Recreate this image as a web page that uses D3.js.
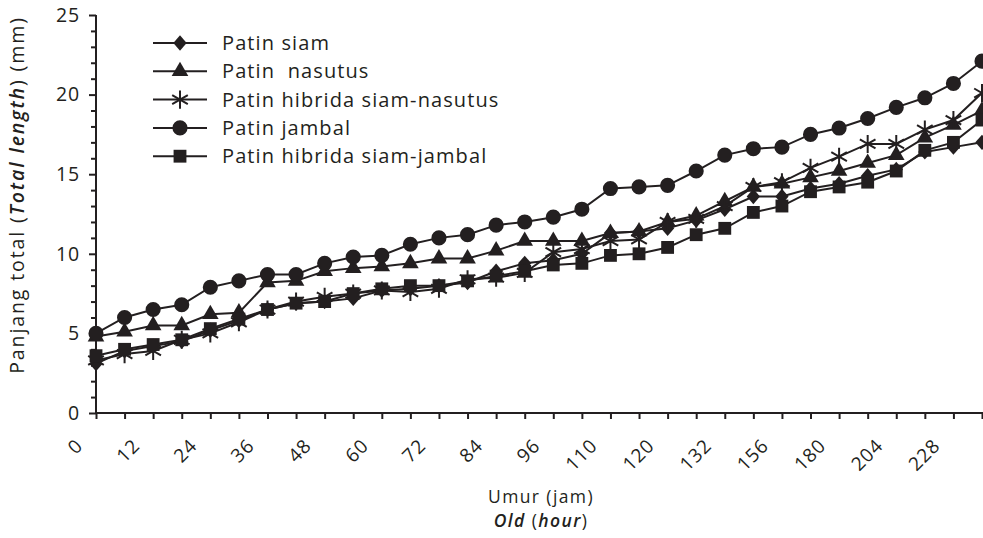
<!DOCTYPE html>
<meta charset="utf-8">
<style>
body { margin: 0; background: #fff; }
text { font-family: "Open Sans", sans-serif; fill: #231f20; letter-spacing: 0.9px; }
.axis path, .axis line { stroke: #231f20; stroke-width: 2px; fill: none; }
.series { fill: none; stroke: #231f20; stroke-width: 2px; }
.mark { fill: #231f20; stroke: #231f20; }
</style>
<body>
<script src="https://d3js.org/d3.v7.min.js"></script>
<script>

var width = 983,
    height = 538;

// hours of observation (only every second one gets a label)
var hours = [0, 6, 12, 18, 24, 30, 36, 42, 48, 54, 60, 66, 72, 78, 84, 90, 96,
             103, 110, 115, 120, 126, 132, 144, 156, 168, 180, 192, 204, 216, 228, 240];

var seriesNames = ["Patin siam", "Patin  nasutus", "Patin hibrida siam-nasutus",
                   "Patin jambal", "Patin hibrida siam-jambal"];

var siam = [3.1, 3.9, 4.2, 4.5, 5.2, 5.8, 6.5, 6.9, 7.0, 7.2, 7.7, 7.8, 8.0, 8.2, 8.9, 9.4,
            9.6, 10.0, 11.3, 11.4, 11.6, 12.1, 12.8, 13.6, 13.6, 14.1, 14.4, 14.9, 15.3, 16.4, 16.7, 17.0];
var nasutus = [4.8, 5.1, 5.5, 5.5, 6.2, 6.3, 8.2, 8.3, 8.9, 9.1, 9.2, 9.4, 9.7, 9.7, 10.2, 10.8,
               10.8, 10.8, 11.3, 11.4, 12.0, 12.4, 13.3, 14.2, 14.4, 14.8, 15.2, 15.7, 16.2, 17.3, 18.1, 19.0];
var hibridaSN = [3.3, 3.7, 3.9, 4.6, 5.0, 5.7, 6.5, 7.0, 7.3, 7.5, 7.7, 7.6, 7.8, 8.4, 8.5, 8.8,
                 10.1, 10.3, 10.8, 10.9, 12.0, 12.2, 13.0, 14.2, 14.5, 15.4, 16.1, 16.9, 16.9, 17.8, 18.4, 20.1];
var jambal = [5.0, 6.0, 6.5, 6.8, 7.9, 8.3, 8.7, 8.7, 9.4, 9.8, 9.9, 10.6, 11.0, 11.2, 11.8, 12.0,
              12.3, 12.8, 14.1, 14.2, 14.3, 15.2, 16.2, 16.6, 16.7, 17.5, 17.9, 18.5, 19.2, 19.8, 20.7, 22.1];
var hibridaSJ = [3.6, 4.0, 4.3, 4.6, 5.3, 5.9, 6.5, 6.9, 7.0, 7.5, 7.8, 8.0, 8.0, 8.3, 8.6, 8.9,
                 9.3, 9.4, 9.9, 10.0, 10.4, 11.2, 11.6, 12.6, 13.0, 13.9, 14.2, 14.5, 15.2, 16.5, 17.0, 18.4];

var allSeries = [siam, nasutus, hibridaSN, jambal, hibridaSJ];

var x = d3.scalePoint()
    .domain(d3.range(hours.length))
    .range([96, 982]);

var y = d3.scaleLinear()
    .domain([0, 25])
    .range([413, 15]);

var svg = d3.select("body").append("svg")
    .attr("width", width)
    .attr("height", height);

// markers
var diamond = {
  draw: function(ctx, size) {
    var r = Math.sqrt(size) / 2;
    ctx.moveTo(0, -r * 1.1);
    ctx.lineTo(r * 0.95, 0);
    ctx.lineTo(0, r * 1.1);
    ctx.lineTo(-r * 0.95, 0);
    ctx.closePath();
  }
};
var shapes = [
  {type: diamond, size: 196, fill: true},
  {type: d3.symbolTriangle, size: 120, fill: true},
  {type: d3.symbolAsterisk, size: 230, fill: false},
  {type: d3.symbolCircle, size: 180, fill: true},
  {type: d3.symbolSquare, size: 165, fill: true}
];

function markers(g, shape) {
  g.attr("d", d3.symbol().type(shape.type).size(shape.size))
    .attr("class", "mark")
    .style("fill", shape.fill ? "#231f20" : "none")
    .style("stroke-width", shape.fill ? 0 : 2);
}

// y axis
var yAxis = svg.append("g")
    .attr("class", "axis")
    .attr("transform", "translate(96,0)")
    .call(d3.axisLeft(y)
      .tickValues(d3.range(0, 26))
      .tickSize(6)
      .tickPadding(10)
      .tickFormat(function(d) { return d % 5 === 0 ? d : ""; }));
yAxis.select(".domain").attr("d", "M0," + y(25) + "V" + y(0));
yAxis.selectAll(".tick line").attr("x2", function(d) { return d % 5 === 0 ? -7 : -5; });
yAxis.selectAll(".tick text").style("font-size", "19.5px").attr("font-family", null);

// x axis
var xAxis = svg.append("g")
    .attr("class", "axis")
    .attr("transform", "translate(0," + y(0) + ")")
    .call(d3.axisBottom(x).tickSize(6).tickFormat(""));
xAxis.select(".domain").attr("d", "M96,0H983");

svg.append("g").selectAll("text")
    .data(d3.range(0, hours.length, 2))
  .enter().append("text")
    .attr("transform", function(i) { return "translate(" + (x(i) - 12) + "," + (y(0) + 34) + ") rotate(-45)"; })
    .attr("text-anchor", "end")
    .style("font-size", "19px")
    .text(function(i) { return hours[i]; });

// lines and markers
var line = d3.line()
    .x(function(d, i) { return x(i); })
    .y(function(d) { return y(d); });

allSeries.forEach(function(s, k) {
  svg.append("path")
      .datum(s)
      .attr("class", "series")
      .attr("d", line);
});
allSeries.forEach(function(s, k) {
  svg.append("g").selectAll("path")
      .data(s)
    .enter().append("path")
      .attr("transform", function(d, i) { return "translate(" + x(i) + "," + y(d) + ")"; })
      .call(markers, shapes[k]);
});

// legend
var legend = svg.append("g").selectAll("g")
    .data(seriesNames)
  .enter().append("g")
    .attr("transform", function(d, i) { return "translate(0," + (43 + i * 28.3) + ")"; });

legend.append("line")
    .attr("x1", 153).attr("x2", 207)
    .attr("stroke", "#231f20").attr("stroke-width", 2);
legend.append("path")
    .attr("transform", "translate(180,0)")
    .each(function(d, i) { d3.select(this).call(markers, shapes[i]); });
legend.append("text")
    .attr("x", 222)
    .attr("dy", "0.35em")
    .style("font-size", "20px")
    .style("letter-spacing", "1.1px")
    .style("white-space", "pre")
    .text(function(d) { return d; });

// axis titles
svg.append("text")
    .attr("text-anchor", "middle")
    .attr("x", 541).attr("y", 503)
    .style("font-size", "17.5px")
    .style("letter-spacing", "1.4px")
    .text("Umur (jam)");
var xt2 = svg.append("text")
    .attr("text-anchor", "middle")
    .attr("x", 541).attr("y", 527)
    .style("font-size", "17.5px")
    .style("letter-spacing", "1.4px");
xt2.append("tspan").style("font-style", "italic").style("font-weight", "600").text("Old");
xt2.append("tspan").text(" (");
xt2.append("tspan").style("font-style", "italic").style("font-weight", "600").text("hour");
xt2.append("tspan").text(")");

var yt = svg.append("text")
    .attr("text-anchor", "middle")
    .attr("transform", "translate(24,195) rotate(-90)")
    .style("font-size", "19.5px")
    .style("letter-spacing", "1.9px");
yt.append("tspan").text("Panjang total (");
yt.append("tspan").style("font-style", "italic").style("font-weight", "600").text("Total length");
yt.append("tspan").text(") (mm)");

</script>
